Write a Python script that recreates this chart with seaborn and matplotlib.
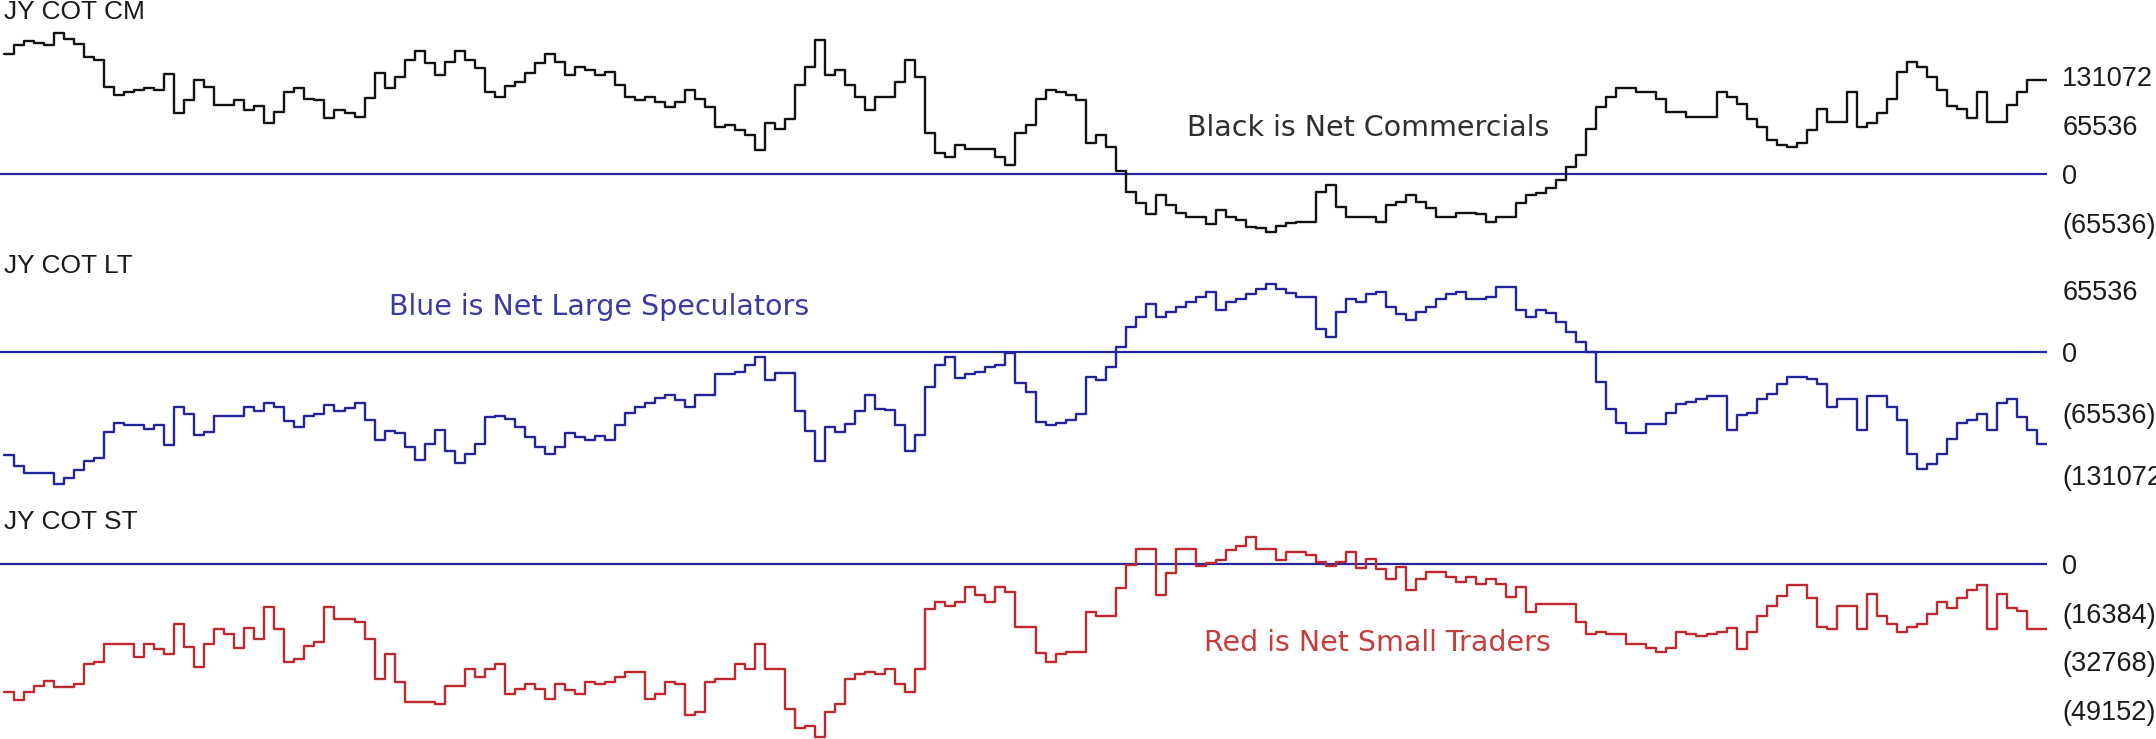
import numpy as np
import pandas as pd
import matplotlib
matplotlib.use("Agg")
import matplotlib.pyplot as plt
import seaborn as sns

# Weekly net positions in the Japanese yen futures, thousands of contracts
cm_k = [
    160.5, 173.0, 178.3, 176.1, 173.0, 189.5, 180.5, 174.3, 156.5, 152.9,
    117.2, 106.1, 110.6, 112.8, 115.9, 112.8, 133.7, 82.5, 99.4, 126.2,
    116.4, 92.7, 92.7, 99.4, 86.0, 91.4, 69.1, 83.8, 110.6, 115.9,
    100.3, 99.4, 75.8, 86.0, 82.5, 76.2, 102.5, 136.0, 115.9, 129.7,
    152.9, 165.4, 149.3, 132.8, 150.7, 165.4, 152.9, 142.7, 110.6, 103.0,
    118.1, 123.9, 136.0, 149.3, 160.5, 150.7, 132.8, 143.1, 139.5, 132.8,
    136.4, 119.5, 103.0, 99.4, 103.0, 96.3, 89.6, 97.2, 112.8, 100.3,
    89.6, 62.9, 66.0, 59.3, 52.6, 32.5, 69.1, 60.2, 73.6, 119.5,
    143.1, 179.7, 132.8, 139.5, 119.5, 103.0, 86.0, 103.0, 103.0, 123.5,
    152.9, 129.7, 55.7, 29.0, 23.6, 39.2, 33.4, 33.4, 33.4, 23.6,
    12.5, 55.7, 66.0, 100.3, 112.8, 110.6, 106.1, 99.4, 42.4, 52.6,
    37.0, 4.9, -24.1, -38.8, -53.5, -27.6, -41.0, -51.3, -56.6, -57.5,
    -66.9, -47.7, -57.5, -61.1, -70.9, -72.2, -76.7, -69.1, -64.6, -63.3,
    -63.3, -23.2, -14.3, -43.2, -57.5, -57.5, -57.5, -63.3, -41.0, -36.6,
    -27.6, -36.6, -45.5, -56.6, -57.5, -51.3, -51.3, -53.1, -63.3, -57.5,
    -56.6, -37.9, -27.6, -25.4, -18.7, -7.6, 10.3, 25.9, 60.2, 89.6,
    103.0, 115.9, 115.9, 110.6, 110.6, 100.3, 83.4, 83.4, 77.1, 77.1,
    77.1, 110.1, 103.9, 94.1, 73.6, 62.9, 45.9, 39.2, 36.1, 42.4,
    59.3, 86.9, 70.4, 70.4, 110.1, 62.9, 69.1, 82.5, 100.3, 137.3,
    150.7, 144.0, 129.7, 112.8, 91.4, 86.9, 75.3, 110.1, 69.5, 69.5,
    92.7, 110.1, 126.2, 126.2,
]

lt_k = [
    -109.9, -121.7, -129.6, -129.6, -129.6, -141.4, -135.0, -126.4, -116.4, -112.8,
    -85.9, -76.3, -77.7, -77.7, -82.3, -77.7, -99.2, -59.1, -66.2, -88.4,
    -85.9, -68.0, -68.0, -68.0, -59.1, -62.7, -54.8, -59.1, -73.4, -80.6,
    -68.0, -66.9, -57.3, -63.4, -59.8, -54.8, -72.7, -94.2, -84.1, -87.0,
    -101.3, -115.6, -98.5, -83.4, -105.6, -118.1, -109.2, -98.5, -69.1, -68.0,
    -71.6, -80.6, -91.3, -102.0, -109.2, -102.0, -87.0, -91.3, -94.2, -89.5,
    -94.2, -77.7, -65.5, -59.1, -54.8, -49.0, -46.5, -51.2, -59.1, -46.5,
    -46.5, -24.0, -23.3, -21.5, -14.3, -6.1, -29.7, -22.6, -22.6, -62.7,
    -84.1, -116.4, -80.6, -85.9, -77.0, -62.7, -46.5, -60.9, -61.9, -77.7,
    -105.6, -88.4, -37.6, -14.3, -6.1, -27.6, -23.3, -21.5, -16.8, -14.3,
    -1.8, -33.3, -43.0, -75.0, -78.0, -75.6, -73.0, -66.7, -26.6, -30.2,
    -16.0, 5.3, 25.9, 36.6, 50.8, 36.6, 42.6, 47.9, 53.3, 58.6,
    63.9, 44.4, 53.3, 55.7, 61.4, 66.4, 72.1, 66.4, 62.1, 58.6,
    58.6, 23.8, 15.3, 42.6, 55.7, 53.3, 61.4, 63.9, 47.9, 40.1,
    33.7, 42.6, 47.9, 55.7, 61.4, 63.9, 55.7, 55.7, 58.6, 69.2,
    69.2, 44.4, 36.6, 44.4, 41.5, 32.0, 21.3, 10.7, 0.0, -32.0,
    -61.4, -75.6, -86.3, -86.3, -77.0, -77.0, -65.0, -55.7, -53.3, -50.8,
    -47.2, -47.2, -83.4, -67.5, -65.7, -50.8, -45.1, -34.4, -26.6, -26.6,
    -29.5, -34.4, -58.6, -50.8, -50.8, -83.4, -47.2, -47.2, -58.6, -72.8,
    -109.0, -125.3, -119.6, -109.0, -93.4, -75.6, -72.8, -66.4, -83.4, -55.0,
    -50.8, -69.2, -83.4, -98.3,
]

st_k = [
    -43.1, -45.9, -43.1, -41.2, -39.5, -41.4, -41.4, -40.5, -33.6, -33.0,
    -27.0, -27.0, -27.0, -31.3, -27.0, -28.8, -30.4, -20.3, -27.9, -34.9,
    -27.0, -22.1, -23.6, -28.2, -21.7, -25.4, -14.4, -22.1, -33.0, -32.2,
    -27.7, -26.2, -14.4, -18.7, -18.7, -19.5, -25.4, -39.0, -30.4, -39.7,
    -46.5, -46.5, -46.5, -47.3, -41.2, -41.2, -35.6, -38.1, -35.6, -33.6,
    -43.9, -42.3, -40.5, -42.3, -45.7, -40.5, -42.6, -43.9, -39.7, -40.5,
    -39.7, -38.1, -36.4, -36.4, -45.7, -43.9, -39.7, -40.5, -51.0, -49.9,
    -39.7, -39.0, -39.0, -33.8, -35.6, -27.0, -35.6, -35.6, -48.8, -55.5,
    -54.7, -58.3, -49.9, -47.3, -39.0, -37.2, -36.4, -37.2, -35.6, -40.5,
    -43.1, -35.6, -15.3, -12.7, -14.2, -12.7, -7.7, -10.5, -12.7, -7.7,
    -9.3, -21.2, -21.2, -30.2, -33.0, -30.4, -29.6, -29.6, -16.1, -17.6,
    -17.6, -8.2, -0.3, 5.0, 5.0, -10.5, -2.9, 5.0, 5.0, -0.7,
    0.2, 1.4, 4.7, 6.1, 9.2, 5.0, 5.0, 1.4, 4.2, 4.2,
    3.0, 0.8, -0.7, 0.8, 4.2, -1.5, 1.6, -1.8, -5.2, -1.1,
    -8.6, -5.2, -2.6, -2.6, -4.3, -6.0, -4.3, -6.8, -5.2, -6.8,
    -11.0, -7.9, -16.1, -13.5, -13.5, -13.5, -13.5, -19.5, -23.6, -22.9,
    -23.6, -23.6, -27.0, -27.0, -28.5, -29.6, -28.5, -22.9, -23.6, -24.3,
    -23.6, -22.9, -21.7, -28.8, -22.9, -17.6, -14.2, -10.8, -7.1, -7.1,
    -11.6, -21.2, -22.1, -14.2, -14.2, -22.1, -10.1, -17.6, -20.3, -22.9,
    -21.2, -20.3, -16.9, -12.7, -15.0, -11.6, -8.6, -7.1, -22.1, -10.1,
    -15.0, -15.8, -22.1, -22.1,
]

panel_titles = ["JY COT CM", "JY COT LT", "JY COT ST"]
notes = ["Black is Net Commercials", "Blue is Net Large Speculators", "Red is Net Small Traders"]
cm_ticks = [131072, 65536, 0, -65536]
lt_ticks = [65536, 0, -65536, -131072]
st_ticks = [0, -16384, -32768, -49152]


def tick_text(v):
    return f"({abs(v)})" if v < 0 else f"{v}"


sns.set_style("white")
plt.rcParams["font.family"] = ["DejaVu Sans"]

W, H = 2156, 739
fig = plt.figure(figsize=(W / 100, H / 100), dpi=100)
fig.patch.set_facecolor("white")

PLOT_RIGHT = 2047
LABEL_FONT = ["Liberation Sans", "DejaVu Sans"]

panels = [
    dict(vals=cm_k, color="#111111", rows=(20, 240), ylim=(-87900, 206400),
         ticks=cm_ticks, title_y=12, note_xy=(1187, 128), note_color="#2e2e2e"),
    dict(vals=lt_k, color="#23239c", rows=(270, 490), ylim=(-147400, 87100),
         ticks=lt_ticks, title_y=266, note_xy=(389, 307), note_color="#3a3aa6"),
    dict(vals=st_k, color="#c0282e", rows=(530, 739), ylim=(-59100, 11500),
         ticks=st_ticks, title_y=522, note_xy=(1204, 643), note_color="#c83c3c"),
]

for p, title, note in zip(panels, panel_titles, notes):
    top_px, bot_px = p["rows"]
    ax = fig.add_axes([0, 1 - bot_px / H, PLOT_RIGHT / W, (bot_px - top_px) / H])
    ax.set_facecolor("none")

    vals = np.asarray(p["vals"]) * 1000.0
    weeks = np.arange(len(vals) + 1)
    df = pd.DataFrame({"week": weeks, "net": np.append(vals, vals[-1])})

    ax.axhline(0, color="#2626a2", linewidth=1.6, zorder=1)
    sns.lineplot(data=df, x="week", y="net", ax=ax, color=p["color"],
                 linewidth=1.7, drawstyle="steps-post", estimator=None, zorder=2)

    ax.set_xlim(-0.4, len(vals))
    ax.set_ylim(*p["ylim"])
    for s in ax.spines.values():
        s.set_visible(False)
    ax.set_xticks([])
    ax.set_xlabel("")
    ax.set_ylabel("")
    ax.yaxis.tick_right()
    ax.set_yticks(p["ticks"])
    ax.set_yticklabels([tick_text(t) for t in p["ticks"]], family=LABEL_FONT,
                       fontsize=19.5, color="#1a1a1a")
    ax.tick_params(axis="y", length=0, pad=11)

    fig.text(4 / W, 1 - p["title_y"] / H, title, ha="left", va="center",
             family=LABEL_FONT, fontsize=19, color="#1a1a1a")
    nx, ny = p["note_xy"]
    fig.text(nx / W, 1 - ny / H, note, ha="left", va="center",
             fontsize=20.5, color=p["note_color"])

fig.savefig("out.png", dpi=100, facecolor="white")
